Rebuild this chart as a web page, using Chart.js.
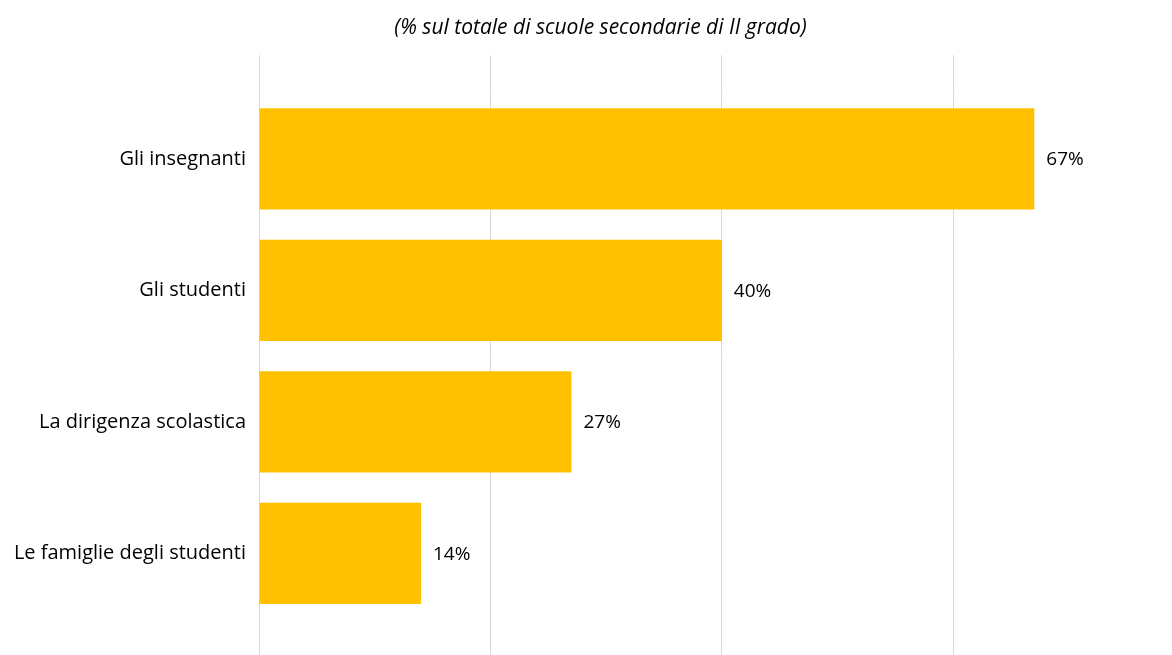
<!DOCTYPE html>
<html>
<head>
<meta charset="utf-8">
<script src="https://cdn.jsdelivr.net/npm/chart.js@4"></script>
<style>
  html, body { margin: 0; padding: 0; background: #fff; }
  #wrap { width: 1172px; height: 655px; }
</style>
</head>
<body>
<div id="wrap"><canvas id="grafico"></canvas></div>
<script>
// dati
const categorie = ['Gli insegnanti', 'Gli studenti', 'La dirigenza scolastica', 'Le famiglie degli studenti'];
const valori = [67, 40, 27, 14];
const titolo = '(% sul totale di scuole secondarie di II grado)';

const FONT = "'Open Sans', Lato, sans-serif";
const GRIGIO = '#d9d9d9';

// etichette a destra delle barre
const etichette = {
    id: 'etichette',
    afterDatasetsDraw(chart) {
        const ctx = chart.ctx;
        ctx.save();
        ctx.font = '19px ' + FONT;
        ctx.fillStyle = '#000';
        ctx.textAlign = 'left';
        ctx.textBaseline = 'middle';
        chart.getDatasetMeta(0).data.forEach((bar, i) => {
            ctx.fillText(valori[i] + '%', bar.x + 12, bar.y + 1);
        });
        ctx.restore();
    }
};

const soloVenti = (scale) => {
    scale.ticks = scale.ticks.filter(t => t.value % 20 === 0);
};

const asseX = (pos, lung) => ({
    type: 'linear',
    position: pos,
    min: 0,
    max: 78.9,
    afterBuildTicks: soloVenti,
    ticks: { display: false, stepSize: 20 },
    border: { display: false },
    grid: { color: GRIGIO, lineWidth: 1, drawTicks: true, tickLength: lung, drawOnChartArea: pos === 'bottom' }
});

new Chart(document.getElementById('grafico'), {
    type: 'bar',
    data: {
        labels: categorie,
        datasets: [{
            data: valori,
            backgroundColor: '#FFC000',
            borderWidth: 0,
            barPercentage: 0.77,
            categoryPercentage: 1
        }]
    },
    options: {
        indexAxis: 'y',
        responsive: true,
        maintainAspectRatio: false,
        animation: false,
        // padding destro negativo: il titolo resta centrato come nell'originale
        layout: { padding: { left: 0, right: -29, top: 0, bottom: 0 } },
        plugins: {
            legend: { display: false },
            tooltip: { enabled: false },
            title: {
                display: true,
                text: titolo,
                color: '#000',
                font: { family: FONT, size: 21, style: 'italic', weight: 'normal' },
                padding: { top: 15, bottom: 15 }
            }
        },
        scales: {
            x: asseX('bottom', 36),
            x2: asseX('top', 38),
            y: {
                afterFit: (scale) => { scale.width = 259; },
                border: { display: false },
                grid: { display: false, drawTicks: false },
                ticks: { color: '#000', padding: 13, font: { family: FONT, size: 20 } }
            }
        }
    },
    plugins: [etichette]
});
</script>
</body>
</html>
